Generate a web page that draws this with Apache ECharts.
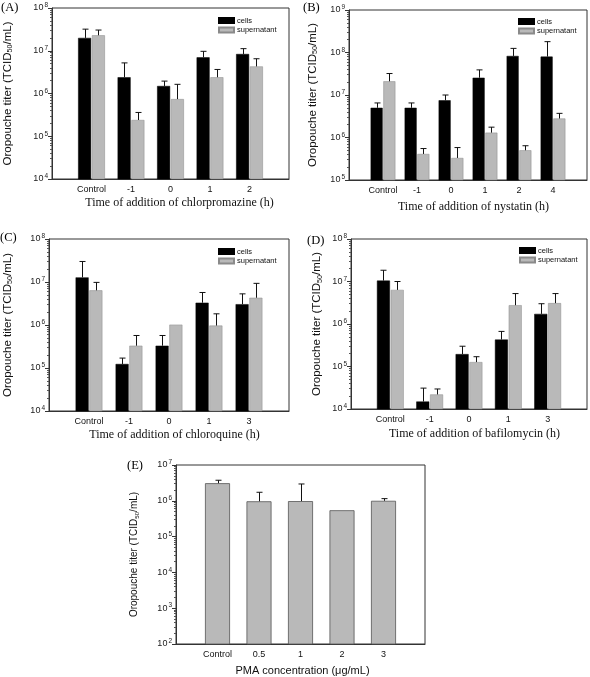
<!DOCTYPE html>
<html><head><meta charset="utf-8">
<script src="https://cdn.jsdelivr.net/npm/echarts@6/dist/echarts.min.js"></script>
<style>html,body{margin:0;padding:0;background:#fff}#c{width:590px;height:677px}</style>
</head><body><div id="c"></div><script>
// ---- data (TCID50/mL); "Hi" = top of error bar ----
const catsA = ['Control', '-1', '0', '1', '2'];
const cellsA = [2.0e7, 2.4e6, 1.5e6, 7.0e6, 8.4e6];
const cellsHiA = [3.2e7, 5.2e6, 1.95e6, 9.7e6, 1.12e7];
const supA = [2.3e7, 2.4e5, 7.4e5, 2.4e6, 4.3e6];
const supHiA = [3.05e7, 3.6e5, 1.64e6, 3.65e6, 6.5e6];

const catsB = ['Control', '-1', '0', '1', '2', '4'];
const cellsB = [5.0e6, 5.0e6, 7.5e6, 2.55e7, 8.3e7, 8.0e7];
const cellsHiB = [6.5e6, 6.5e6, 1.0e7, 3.9e7, 1.25e8, 1.8e8];
const supB = [2.1e7, 4.1e5, 3.3e5, 1.3e6, 5.0e5, 2.8e6];
const supHiB = [3.2e7, 5.5e5, 5.8e5, 1.75e6, 6.4e5, 3.7e6];

const catsC = ['Control', '-1', '0', '1', '3'];
const cellsC = [1.28e7, 1.24e5, 3.3e5, 3.3e6, 3.05e6];
const cellsHiC = [3.0e7, 1.7e5, 5.7e5, 5.7e6, 5.3e6];
const supC = [6.4e6, 3.3e5, 1.02e6, 9.7e5, 4.3e6];
const supHiC = [9.8e6, 5.7e5, null, 1.82e6, 9.3e6];

const catsD = ['Control', '-1', '0', '1', '3'];
const cellsD = [1.05e7, 1.5e4, 1.96e5, 4.3e5, 1.73e6];
const cellsHiD = [1.84e7, 3.1e4, 3.0e5, 6.7e5, 3.0e6];
const supD = [6.35e6, 2.2e4, 1.27e5, 2.77e6, 3.1e6];
const supHiD = [1.0e7, 2.96e4, 1.7e5, 5.2e6, 5.2e6];

const catsE = ['Control', '0.5', '1', '2', '3'];
const pmaE = [3.1e6, 9.7e5, 9.8e5, 5.45e5, 1.0e6];
const pmaHiE = [3.75e6, 1.73e6, 2.95e6, null, 1.15e6];

// ---- styling ----
const SANS = '"Liberation Sans", Arial, sans-serif';
const SERIF = '"Liberation Serif", "Times New Roman", serif';
const BLACK = '#000000';
const GRAY = '#b9b9b9';
const AXIS = '#333333';

const panels = [
  { label: '(A)', lab: {left: 1, top: 1}, cats: catsA, ymin: 4, ymax: 8,
    grid: {left: 52, top: 8, width: 237, height: 171}, bw: 13,
    series: [{name: 'cells', color: BLACK, v: cellsA, hi: cellsHiA}, {name: 'supernatant', color: GRAY, v: supA, hi: supHiA}],
    xname: 'Time of addition of chlorpromazine (h)', xfont: SERIF, xsize: 12, xgap: 17.5, xshift: 18,
    ysize: 11.5, ygap: 38, legend: {left: 218, top: 16.5} },
  { label: '(B)', lab: {left: 303, top: 1}, cats: catsB, ymin: 5, ymax: 9,
    grid: {left: 349, top: 10, width: 238, height: 170}, bw: 12,
    series: [{name: 'cells', color: BLACK, v: cellsB, hi: cellsHiB}, {name: 'supernatant', color: GRAY, v: supB, hi: supHiB}],
    xname: 'Time of addition of nystatin (h)', xfont: SERIF, xsize: 12, xgap: 21, xshift: 11,
    ysize: 11.5, ygap: 30, legend: {left: 518, top: 17.5} },
  { label: '(C)', lab: {left: 0, top: 231}, cats: catsC, ymin: 4, ymax: 8,
    grid: {left: 49, top: 239, width: 240, height: 172}, bw: 13,
    series: [{name: 'cells', color: BLACK, v: cellsC, hi: cellsHiC}, {name: 'supernatant', color: GRAY, v: supC, hi: supHiC}],
    xname: 'Time of addition of chloroquine (h)', xfont: SERIF, xsize: 12, xgap: 18, xshift: 11,
    ysize: 11.5, ygap: 35, legend: {left: 218, top: 247.5} },
  { label: '(D)', lab: {left: 307, top: 234}, cats: catsD, ymin: 4, ymax: 8,
    grid: {left: 351, top: 239, width: 238, height: 170}, bw: 13,
    series: [{name: 'cells', color: BLACK, v: cellsD, hi: cellsHiD}, {name: 'supernatant', color: GRAY, v: supD, hi: supHiD}],
    xname: 'Time of addition of bafilomycin (h)', xfont: SERIF, xsize: 12, xgap: 19, xshift: 11,
    ysize: 11.5, ygap: 27.5, legend: {left: 519, top: 246.5} },
  { label: '(E)', lab: {left: 127, top: 459}, cats: catsE, ymin: 2, ymax: 7,
    grid: {left: 176, top: 465, width: 249, height: 179}, bw: 25,
    series: [{name: 'PMA', color: GRAY, v: pmaE, hi: pmaHiE, border: true}],
    xname: 'PMA concentration (\u03bcg/mL)', xfont: SANS, xsize: 11, xgap: 21, xshift: 4,
    ysize: 10, ygap: 36, legend: null }
];

const option = {
  animation: false,
  backgroundColor: '#ffffff',
  title: [], grid: [], xAxis: [], yAxis: [], series: [], legend: []
};

panels.forEach((p, gi) => {
  option.title.push({
    text: p.label, left: p.lab.left, top: p.lab.top, padding: 0,
    textStyle: {fontFamily: SERIF, fontSize: 12.5, fontWeight: 'normal', color: '#000'}
  });
  option.grid.push(Object.assign({show: true, borderColor: AXIS, borderWidth: 1, containLabel: false}, p.grid));
  option.xAxis.push({
    type: 'category', gridIndex: gi, boundaryGap: false,
    data: [''].concat(p.cats, ['']),
    axisLine: {lineStyle: {color: AXIS, width: 1}},
    axisTick: {show: false},
    axisLabel: {interval: 0, fontFamily: SANS, fontSize: 9, color: '#111', margin: 6},
    name: p.xname, nameLocation: 'middle', nameGap: p.xgap,
    nameTextStyle: {fontFamily: p.xfont, fontSize: p.xsize, color: '#111', padding: [0, 0, 0, p.xshift]}
  });
  option.yAxis.push({
    type: 'log', logBase: 10, gridIndex: gi,
    min: Math.pow(10, p.ymin), max: Math.pow(10, p.ymax), interval: 1,
    axisLine: {show: true, lineStyle: {color: AXIS, width: 1}},
    axisTick: {show: true, inside: false, length: 4, lineStyle: {color: AXIS}},
    minorTick: {show: true, splitNumber: 9, length: 2, lineStyle: {color: '#555'}},
    splitLine: {show: false},
    axisLabel: {
      fontFamily: SANS, fontSize: 9, color: '#222', margin: 4,
      formatter: v => '10{sup|' + Math.round(Math.log10(v)) + '}',
      rich: {sup: {fontSize: 6.5, fontFamily: SANS, color: '#222', verticalAlign: 'bottom', padding: [0, 0, 5, 1]}}
    },
    name: 'Oropouche titer (TCID{sub|50}/mL)', nameLocation: 'middle', nameGap: p.ygap,
    nameTextStyle: {fontFamily: SANS, fontSize: p.ysize, color: '#111',
      rich: {sub: {fontFamily: SANS, fontSize: p.ysize * 0.62, color: '#111', verticalAlign: 'top', padding: [p.ysize * 0.5, 0, 0, 0]}}}
  });
  const n = p.series.length;
  const gapRatio = 0.06;
  p.series.forEach((s, si) => {
    option.series.push({
      type: 'bar', name: s.name, xAxisIndex: gi, yAxisIndex: gi,
      barWidth: p.bw, barGap: (gapRatio * 100) + '%', clip: true,
      itemStyle: {color: s.color, borderColor: s.border ? '#555' : (s.color === BLACK ? BLACK : '#8a8a8a'), borderWidth: s.border ? 0.8 : 0.5},
      data: [null].concat(s.v, [null]),
      z: 2
    });
  });
  p.series.forEach((s, si) => {
    const off = n === 1 ? 0 : (si === 0 ? -1 : 1) * p.bw * (1 + gapRatio) / 2;
    const data = [];
    s.v.forEach((val, i) => { if (s.hi[i] != null) data.push([i + 1, s.hi[i], val]); });
    option.series.push({
      type: 'custom', name: s.name + '-err', xAxisIndex: gi, yAxisIndex: gi, z: 5,
      encode: {x: 0, y: 1}, silent: true,
      renderItem: (params, api) => {
        const top = api.coord([api.value(0), api.value(1)]);
        const bot = api.coord([api.value(0), api.value(2)]);
        const cx = Math.round(top[0] + off) + 0.5;
        const cap = 3;
        return {type: 'group', children: [
          {type: 'line', shape: {x1: cx, y1: bot[1], x2: cx, y2: top[1]}, style: {stroke: '#111', lineWidth: 1}},
          {type: 'line', shape: {x1: cx - cap, y1: top[1], x2: cx + cap, y2: top[1]}, style: {stroke: '#111', lineWidth: 1}}
        ]};
      },
      data: data
    });
  });
  if (p.legend) {
    option.legend.push({
      left: p.legend.left, top: p.legend.top, orient: 'vertical', padding: 0,
      itemWidth: 15, itemHeight: 5, itemGap: 1.5, icon: 'rect', selectedMode: false,
      data: ['cells', 'supernatant'],
      textStyle: {fontFamily: SANS, fontSize: 7.5, color: '#111', lineHeight: 8, padding: [0, 0, 0, -2]}
    });
  }
});

const chart = echarts.init(document.getElementById('c'), null, {renderer: 'canvas'});
chart.setOption(option);
</script></body></html>
